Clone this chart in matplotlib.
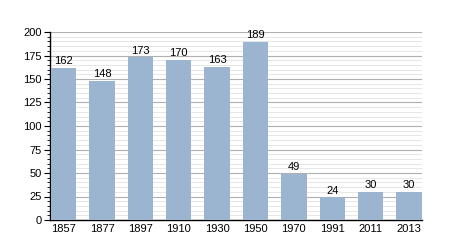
import matplotlib
matplotlib.use("Agg")
import matplotlib.pyplot as plt
from matplotlib.ticker import MultipleLocator

plt.rcParams['font.family'] = ['Liberation Sans', 'DejaVu Sans']

years = ["1857", "1877", "1897", "1910", "1930", "1950", "1970", "1991", "2011", "2013"]
values = [162, 148, 173, 170, 163, 189, 49, 24, 30, 30]

fig = plt.figure(figsize=(4.5, 2.5), dpi=100)
ax = fig.add_axes([0.111, 0.12, 0.826, 0.752])

x = range(len(years))
ax.bar(x, values, width=0.66, color="#9bb5d0", zorder=3)
for i, v in zip(x, values):
    ax.text(i, v + 2, str(v), ha="center", va="bottom", fontsize=8, zorder=4)

ax.set_xlim(-0.356, len(years) - 1 + 0.33)
ax.set_ylim(0, 200)
ax.set_xticks(list(x))
ax.set_xticklabels(years)
ax.yaxis.set_major_locator(MultipleLocator(25))
ax.yaxis.set_minor_locator(MultipleLocator(5))
ax.grid(axis="y", which="major", color="#b0b0b0", linewidth=0.8, zorder=0)
ax.grid(axis="y", which="minor", color="#e2e2e2", linewidth=0.6, zorder=0)
ax.tick_params(axis="x", length=0, labelsize=8, pad=3)
ax.tick_params(axis="y", which="major", length=4, labelsize=8, pad=2)
ax.tick_params(axis="y", which="minor", length=2)
for s in ["top", "right"]:
    ax.spines[s].set_visible(False)
ax.spines["left"].set_linewidth(1.0)
ax.spines["bottom"].set_linewidth(1.0)

fig.savefig("out.png", dpi=100)
